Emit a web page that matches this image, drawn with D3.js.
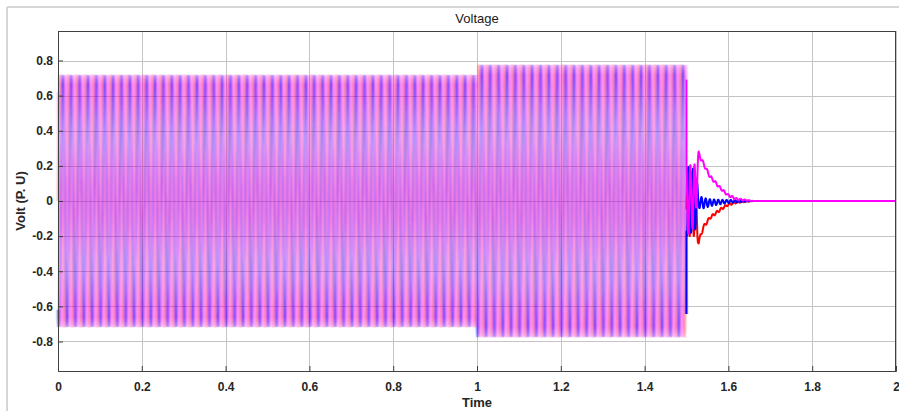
<!DOCTYPE html>
<html>
<head>
<meta charset="utf-8">
<script src="https://cdn.jsdelivr.net/npm/d3@7"></script>
<style>
  html, body { margin: 0; padding: 0; background: #fff; }
  svg { display: block; font-family: "Liberation Sans", Arial, sans-serif; }
</style>
</head>
<body>
<svg id="chart" width="899" height="411"></svg>
<script>
// ---- data -------------------------------------------------------------
const xTicks = [0, 0.2, 0.4, 0.6, 0.8, 1, 1.2, 1.4, 1.6, 1.8, 2];
const yTicks = [-0.8, -0.6, -0.4, -0.2, 0, 0.2, 0.4, 0.6, 0.8];
const phaseNames = ["A", "B", "C"];
const phaseColors = ["#ff0000", "#0000ff", "#ff00ff"];
const phaseShiftDeg = [0, -120, 120];

// steady-state segments: start time, end time, peak value (p.u.)
const segStart = [0.0, 1.0];
const segEnd = [1.0, 1.5];
const segPeak = [0.715, 0.772];
const fundamentalHz = 50;
const faultTime = 1.5;

// post-fault transient (t >= 1.5): offset envelope knots per phase
const transTimes = [1.5, 1.522, 1.529, 1.54, 1.556, 1.58, 1.598, 1.62, 1.66, 2.0];
const offsetA = [0, -0.03, -0.235, -0.15, -0.095, -0.05, -0.022, -0.006, 0, 0];
const offsetB = [0, 0.01, -0.005, -0.012, -0.01, -0.006, -0.003, -0.001, 0, 0];
const offsetC = [0, 0.04, 0.27, 0.215, 0.14, 0.075, 0.035, 0.01, 0, 0];
// ripple amplitude knots per phase
const rippleA = [0.2, 0.17, 0.012, 0.01, 0.008, 0.007, 0.006, 0.006, 0.0, 0];
const rippleB = [0.2, 0.17, 0.035, 0.03, 0.02, 0.013, 0.009, 0.007, 0.0, 0];
const rippleC = [0.2, 0.17, 0.012, 0.01, 0.008, 0.007, 0.006, 0.006, 0.0, 0];
const rippleHz = [100, 100, 100];

// ---- layout -----------------------------------------------------------
const svg = d3.select("#chart");
const plot = { left: 58, right: 896, top: 31, bottom: 371 };

const x = d3.scaleLinear().domain([0, 2]).range([plot.left, plot.right]);
const y = d3.scaleLinear().domain([-0.968, 0.968]).range([plot.bottom, plot.top]);

const defs = svg.append("defs");
defs.append("filter").attr("id", "soft")
  .attr("x", "-2%").attr("y", "-2%").attr("width", "104%").attr("height", "104%")
  .append("feGaussianBlur").attr("stdDeviation", "0.8 0.3");

// figure frame
svg.append("line").attr("x1", 7).attr("x2", 7).attr("y1", 7).attr("y2", 411)
  .attr("stroke", "#d6d6d6").attr("stroke-width", 2);
svg.append("line").attr("x1", 7).attr("x2", 899).attr("y1", 7).attr("y2", 7)
  .attr("stroke", "#d6d6d6").attr("stroke-width", 2);

// grid
const grid = svg.append("g").attr("stroke", "#c4c4c4").attr("stroke-width", 1);
xTicks.forEach(t => grid.append("line")
  .attr("x1", Math.round(x(t)) + 0.5).attr("x2", Math.round(x(t)) + 0.5)
  .attr("y1", plot.top).attr("y2", plot.bottom));
yTicks.forEach(t => grid.append("line")
  .attr("x1", plot.left).attr("x2", plot.right)
  .attr("y1", Math.round(y(t)) + 0.5).attr("y2", Math.round(y(t)) + 0.5));

// ---- signals ----------------------------------------------------------
const offsets = [offsetA, offsetB, offsetC];
const ripples = [rippleA, rippleB, rippleC];

function knot(arr, t) {
  const i = d3.bisectRight(transTimes, t) - 1;
  if (i < 0) return arr[0];
  if (i >= transTimes.length - 1) return arr[arr.length - 1];
  const f = (t - transTimes[i]) / (transTimes[i + 1] - transTimes[i]);
  return arr[i] + (arr[i + 1] - arr[i]) * f;
}

function phaseValue(p, t) {
  const ph = phaseShiftDeg[p] * Math.PI / 180;
  for (let s = 0; s < segStart.length; s++) {
    if (t >= segStart[s] && t < segEnd[s]) {
      return segPeak[s] * Math.sin(2 * Math.PI * fundamentalHz * t + ph);
    }
  }
  const off = knot(offsets[p], t);
  const rip = knot(ripples[p], t);
  return off + rip * Math.sin(2 * Math.PI * rippleHz[p] * t + ph);
}

const dt = 0.0002;
const preTimes = d3.range(0, faultTime, dt);
const postTimes = d3.range(faultTime - dt, 2 + dt / 2, dt);
const line = d3.line().x(d => x(d[0])).y(d => y(d[1]));

// dense steady-state oscillation
const steadyOpacity = [0.65, 1, 0.58];
const steady = svg.append("g").attr("fill", "none").attr("stroke-width", 1.05)
  .attr("filter", "url(#soft)");
phaseNames.forEach((name, p) => {
  steady.append("path")
    .attr("class", "steady-" + name)
    .attr("d", line(preTimes.map(t => [t, phaseValue(p, t)])))
    .attr("stroke", phaseColors[p])
    .attr("stroke-opacity", steadyOpacity[p]);
});

// post-fault decay
const post = svg.append("g").attr("fill", "none").attr("stroke-width", 2)
  .attr("stroke-linejoin", "round");
phaseNames.forEach((name, p) => {
  post.append("path")
    .attr("class", "post-" + name)
    .attr("d", line(postTimes.map(t => [t, phaseValue(p, t)])))
    .attr("stroke", phaseColors[p]);
});

// ---- axes -------------------------------------------------------------
const axisColor = "#404040";
const fmtTick = d => d === 0 ? "0" : d3.format(".1f")(d).replace("\u2212", "-");
const xAxis = svg.append("g").attr("transform", `translate(0,${plot.bottom})`)
  .call(d3.axisBottom(x).tickValues(xTicks).tickSize(-5).tickPadding(11)
    .tickFormat(d => d3.format("~g")(d)));
const yAxis = svg.append("g").attr("transform", `translate(${plot.left},0)`)
  .call(d3.axisLeft(y).tickValues(yTicks).tickSize(-5).tickPadding(5)
    .tickFormat(fmtTick));
[xAxis, yAxis].forEach(a => {
  a.select(".domain").attr("stroke", axisColor);
  a.selectAll(".tick line").attr("stroke", axisColor);
  a.selectAll(".tick text").attr("fill", "#262626")
    .attr("font-size", 12).attr("font-weight", "bold")
    .attr("font-family", "'Liberation Sans', Arial, sans-serif");
});
// box top and right
svg.append("line").attr("x1", plot.left).attr("x2", plot.right)
  .attr("y1", plot.top + 0.5).attr("y2", plot.top + 0.5).attr("stroke", axisColor);
svg.append("line").attr("x1", plot.right - 0.5).attr("x2", plot.right - 0.5)
  .attr("y1", plot.top).attr("y2", plot.bottom).attr("stroke", axisColor);

// labels
svg.append("text").attr("x", (plot.left + plot.right) / 2).attr("y", 23)
  .attr("text-anchor", "middle").attr("font-size", 13).attr("fill", "#1a1a1a")
  .text("Voltage");
svg.append("text").attr("x", (plot.left + plot.right) / 2).attr("y", 407)
  .attr("text-anchor", "middle").attr("font-size", 13).attr("font-weight", "bold")
  .attr("fill", "#262626").text("Time");
svg.append("text")
  .attr("transform", `translate(25,${(plot.top + plot.bottom) / 2}) rotate(-90)`)
  .attr("text-anchor", "middle").attr("font-size", 13).attr("font-weight", "bold")
  .attr("fill", "#262626").text("Volt (P. U)");
</script>
</body>
</html>
